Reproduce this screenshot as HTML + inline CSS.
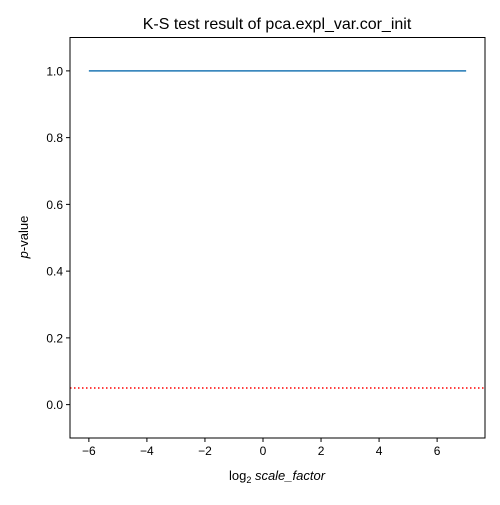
<!DOCTYPE html>
<html><head><meta charset="utf-8"><style>body{margin:0;background:#fff}</style></head>
<body>
<svg id="chart" width="500" height="500" xmlns="http://www.w3.org/2000/svg" font-family="'Liberation Sans','DejaVu Sans',sans-serif">
<text x="277" y="29" font-size="16" text-anchor="middle">K-S test result of pca.expl_var.cor_init</text>
<g id="ticks"></g>
<g id="marks"></g>
<rect x="70" y="37.5" width="415" height="400.5" fill="none" stroke="#000" stroke-width="1"/>
<text x="277" y="480" font-size="13" text-anchor="middle">log<tspan font-size="9" dy="3">2</tspan><tspan dy="-3" font-style="italic"> scale_factor</tspan></text>
<text transform="translate(28,237) rotate(-90)" font-size="13" text-anchor="middle"><tspan font-style="italic">p</tspan>-value</text>
</svg>
<script>
const xValues = [-6, 7];
const pValues = [1.0, 1.0];
const threshold = [0.05];
const xTicks = [-6, -4, -2, 0, 2, 4, 6];
const yTicks = [0.0, 0.2, 0.4, 0.6, 0.8, 1.0];
const NS = "http://www.w3.org/2000/svg";
const L = 70, R = 485, T = 37.5, B = 438;
const xMin = -6.65, xMax = 7.65, yMin = -0.1, yMax = 1.1;
const xs = v => L + (v - xMin) / (xMax - xMin) * (R - L);
const ys = v => B - (v - yMin) / (yMax - yMin) * (B - T);
function mk(tag, attrs, parent) { const e = document.createElementNS(NS, tag); for (const k in attrs) e.setAttribute(k, attrs[k]); parent.appendChild(e); return e; }
const tg = document.getElementById('ticks'), mg = document.getElementById('marks');
xTicks.forEach(t => {
  const l = mk('line', {x1: xs(t), x2: xs(t), y1: B, y2: B + 4, stroke: '#000'}, tg);
  
  
  const tx = mk('text', {x: xs(t), y: B + 17, 'font-size': 12, 'text-anchor': 'middle'}, tg);
  tx.textContent = t < 0 ? '\u2212' + Math.abs(t) : String(t);
  
  
});
yTicks.forEach(t => {
  const l = mk('line', {x1: L - 4, x2: L, y1: ys(t), y2: ys(t), stroke: '#000'}, tg);
  
  
  const tx = mk('text', {x: L - 7, y: ys(t) + 4.5, 'font-size': 12, 'text-anchor': 'end'}, tg);
  tx.textContent = t.toFixed(1);
  
  
});
const th = mk('line', {x1: L, x2: R, y1: ys(threshold[0]), y2: ys(threshold[0]), stroke: '#ff0000', 'stroke-width': 1.5, 'stroke-dasharray': '1.5,2.5'}, mg);


const pts = xValues.map((x, i) => xs(x) + ',' + ys(pValues[i])).join(' ');
const pl = mk('polyline', {points: pts, fill: 'none', stroke: '#1f77b4', 'stroke-width': 1.5}, mg);


</script>
</body></html>
